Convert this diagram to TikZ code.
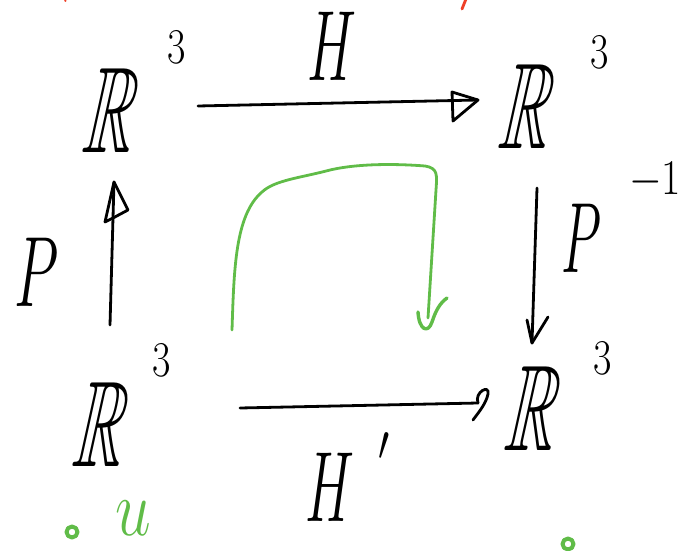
\RequirePackage{fix-cm}
\documentclass[tikz,border=0pt]{standalone}
\usepackage{amssymb}
\definecolor{inkgreen}{RGB}{96,188,72}
\definecolor{inkred}{RGB}{238,64,40}
\begin{document}
\begin{tikzpicture}[x=1pt,y=-1pt,
  ink/.style={line width=2.8pt,line cap=round,line join=round},
  gink/.style={ink,draw=inkgreen},
  space/.style={inner sep=0pt,xscale=0.55,xslant=0.4,font=\fontsize{122}{122}\selectfont},
  expo/.style={inner sep=0pt,xscale=0.8,font=\fontsize{50}{50}\selectfont},
  mapname/.style={inner sep=0pt,xscale=0.55,font=\fontsize{100}{100}\selectfont}]
\useasboundingbox (0,0) rectangle (693,551);

% the four copies of R^3
\node[space] (r1) at (115,110) {$\mathbb{R}$};
\node[expo]  (r1e) at (177,47) {$3$};
\node[space] (r2) at (531,106) {$\mathbb{R}$};
\node[expo]  (r2e) at (600,52) {$3$};
\node[space] (r3) at (105,424) {$\mathbb{R}$};
\node[expo]  (r3e) at (162,360) {$3$};
\node[space] (r4) at (537,408) {$\mathbb{R}$};
\node[expo]  (r4e) at (603,358) {$3$};

% map labels
\node[mapname] (h) at (332,46) {$H$};
\node[mapname,xscale=1.05] (p) at (37,272) {$P$};
\node[mapname,xscale=0.95] (pi) at (582,238) {$P$};
\node[expo,xscale=1.05] (pie) at (655,180) {$-1$};
\node[mapname] (hp) at (330,487) {$H$};
\node[expo] (hpe) at (384,447) {$\prime$};

% arrow end points
\coordinate (hS) at (198,106);
\coordinate (hE) at (478,100);
\coordinate (pS) at (110,325);
\coordinate (pE) at (114,182);
\coordinate (qS) at (537,188);
\coordinate (qE) at (532,343);
\coordinate (gS) at (240,408);
\coordinate (gE) at (478,403);

% H : top
\draw[ink] (hS) -- (hE);
\draw[ink] (hE) -- ++(-26,-8) -- ++(1,29) -- cycle;
% P : left, upwards
\draw[ink] (pS) -- (pE);
\draw[ink] (pE) -- ++(14,28) -- ++(-15,8) -- ++(-8,4) -- cycle;
% P^{-1} : right, downwards
\draw[ink] (qS) -- (qE);
\draw[ink] (qE) -- ++(-5,-23);
\draw[ink] (qE) -- ++(16,-26);
% H' : bottom
\draw[ink] (gS) -- (gE);
\draw[ink] (gE) .. controls (474,392) and (490,384) .. (488,394)
               .. controls (486,404) and (478,413) .. (473,420);

% green circulation arrow
\coordinate (cS) at (232,330);
\coordinate (cE) at (428,318);
\draw[gink] (cS) .. controls (234,270) and (235,215) .. (262,192)
   .. controls (275,180) and (300,178) .. (330,170)
   .. controls (360,163) and (400,164) .. (425,166)
   .. controls (438,168) and (437,175) .. (436,190) -- (cE);
\draw[gink,line width=3.4pt] (418,312) .. controls (419,330) and (428,334) .. (432,322)
   .. controls (436,310) and (440,303) .. (447,298);

% green marks at the bottom
\node[inner sep=1pt,xscale=0.8,font=\fontsize{80}{80}\selectfont,text=inkgreen] (u) at (133,518) {$u$};
\coordinate (d1) at (72,532);
\coordinate (d2) at (568,544);
\draw[gink,line width=4pt] (d1) circle (5.5);
\draw[gink,line width=4pt] (d2) circle (5.5);

% red strokes at the top edge
\coordinate (m1) at (65,-1);
\coordinate (m2) at (466,-1);
\draw[ink,line width=2pt,draw=inkred] (m1) -- ++(0.5,2);
\draw[ink,draw=inkred] (m2) -- ++(-4,10);
\end{tikzpicture}
\end{document}
